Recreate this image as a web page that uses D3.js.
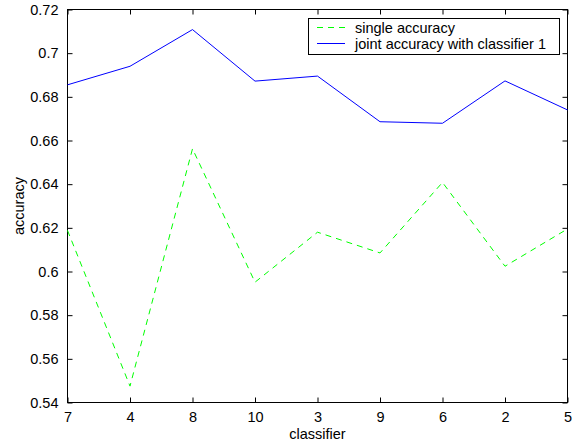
<!DOCTYPE html>
<html>
<head>
<meta charset="utf-8">
<script src="https://cdn.jsdelivr.net/npm/d3@7"></script>
<style>
  body { margin: 0; background: #fff; }
  svg text { font-family: "Liberation Sans", Arial, sans-serif; fill: #000; }
</style>
</head>
<body>
<svg id="chart" width="581" height="447"></svg>
<script>
var classifiers = ['7', '4', '8', '10', '3', '9', '6', '2', '5'];
var single_acc = [0.6188, 0.5475, 0.6562, 0.5951, 0.618, 0.6085, 0.6408, 0.6024, 0.6195];
var joint_acc = [0.6855, 0.694, 0.7108, 0.6872, 0.6895, 0.6686, 0.6679, 0.6873, 0.674];
var y_ticks = [0.54, 0.56, 0.58, 0.6, 0.62, 0.64, 0.66, 0.68, 0.7, 0.72];
var y_tick_labels = ['0.54', '0.56', '0.58', '0.6', '0.62', '0.64', '0.66', '0.68', '0.7', '0.72'];
var legend_labels = ['single accuracy', 'joint accuracy with classifier 1'];

var svg = d3.select('#chart');
var plotL = 67.5, plotR = 567.5, plotT = 9.5, plotB = 402.5;

var x = d3.scalePoint().domain(classifiers).range([plotL, plotR]);
var y = d3.scaleLinear().domain([0.54, 0.72]).range([plotB, plotT]);

var fontSize = '14.5px';

// box
svg.append('rect')
    .attr('x', plotL).attr('y', plotT)
    .attr('width', plotR - plotL).attr('height', plotB - plotT)
    .attr('fill', 'none').attr('stroke', '#000').attr('stroke-width', 1);

// inward ticks on all sides
var tickLen = 5;
var xAxisB = d3.axisBottom(x).tickSize(-tickLen).tickPadding(9);
var xAxisT = d3.axisTop(x).tickSize(-tickLen).tickFormat('');
var yAxisL = d3.axisLeft(y).tickValues(y_ticks).tickSize(-tickLen).tickPadding(9)
    .tickFormat(function(d, i) { return y_tick_labels[i]; });
var yAxisR = d3.axisRight(y).tickValues(y_ticks).tickSize(-tickLen).tickFormat('');

function styleAxis(g) {
    g.select('.domain').remove();
    g.selectAll('.tick line').attr('stroke', '#000');
    g.selectAll('.tick text').style('font-size', fontSize).attr('fill', '#000');
}

svg.append('g').attr('transform', 'translate(0,' + plotB + ')').call(xAxisB).call(styleAxis);
svg.append('g').attr('transform', 'translate(0,' + plotT + ')').call(xAxisT).call(styleAxis);
svg.append('g').attr('transform', 'translate(' + plotL + ',0)').call(yAxisL).call(styleAxis);
svg.append('g').attr('transform', 'translate(' + plotR + ',0)').call(yAxisR).call(styleAxis);

// lines
var line = d3.line()
    .x(function(d, i) { return x(classifiers[i]); })
    .y(function(d) { return y(d); });

svg.append('path').datum(single_acc)
    .attr('d', line)
    .attr('fill', 'none')
    .attr('stroke', '#00ff00')
    .attr('stroke-width', 1)
    .attr('stroke-dasharray', '6,5');

svg.append('path').datum(joint_acc)
    .attr('d', line)
    .attr('fill', 'none')
    .attr('stroke', '#0000ff')
    .attr('stroke-width', 1);

// axis labels
svg.append('text')
    .attr('x', (plotL + plotR) / 2).attr('y', 439)
    .attr('text-anchor', 'middle')
    .style('font-size', fontSize)
    .text('classifier');

svg.append('text')
    .attr('transform', 'translate(24,' + ((plotT + plotB) / 2) + ') rotate(-90)')
    .attr('text-anchor', 'middle')
    .style('font-size', fontSize)
    .text('accuracy');

// legend
var lg = svg.append('g');
lg.append('rect')
    .attr('x', 308.5).attr('y', 18.5)
    .attr('width', 251).attr('height', 36)
    .attr('fill', '#fff').attr('stroke', '#000');

var legendRows = [
    { label: legend_labels[0], color: '#00ff00', dash: '6,5', y: 27.5 },
    { label: legend_labels[1], color: '#0000ff', dash: null, y: 43.5 }
];
legendRows.forEach(function(r) {
    lg.append('line')
        .attr('x1', 317).attr('x2', 345)
        .attr('y1', r.y).attr('y2', r.y)
        .attr('stroke', r.color)
        .attr('stroke-dasharray', r.dash);
    lg.append('text')
        .attr('x', 355).attr('y', r.y + 5)
        .style('font-size', fontSize)
        .text(r.label);
});
</script>
</body>
</html>
